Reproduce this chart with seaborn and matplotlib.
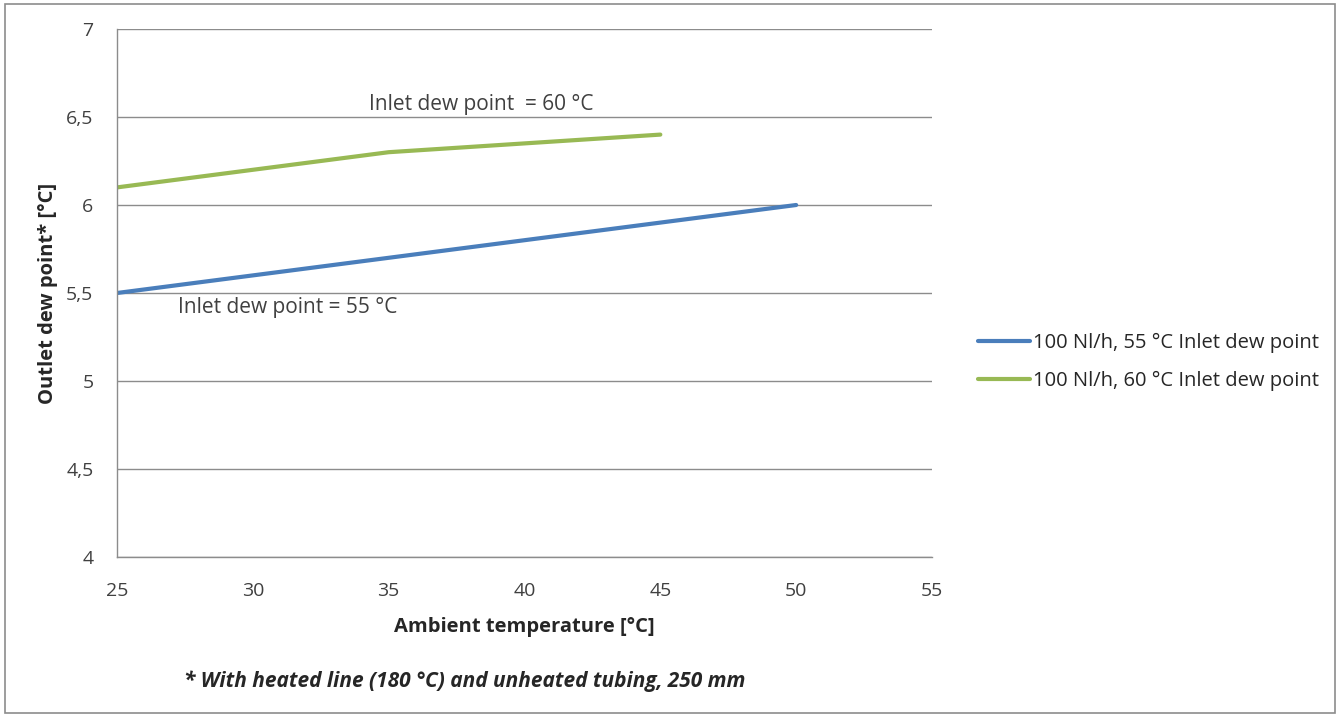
import pandas as pd
import seaborn as sns
import matplotlib.pyplot as plt
from matplotlib.ticker import FuncFormatter
from matplotlib.patches import Rectangle

# Data
ambient_55 = [25, 35, 50]
outlet_55 = [5.5, 5.7, 6.0]
ambient_60 = [25, 35, 45]
outlet_60 = [6.1, 6.3, 6.4]
series_names = ["100 Nl/h, 55 °C Inlet dew point", "100 Nl/h, 60 °C Inlet dew point"]
series_colors = ["#4a7ebb", "#98b954"]

df = pd.concat([
    pd.DataFrame({"ambient": ambient_55, "outlet": outlet_55, "series": series_names[0]}),
    pd.DataFrame({"ambient": ambient_60, "outlet": outlet_60, "series": series_names[1]}),
])

sns.set_style("white")
plt.rcParams['font.family'] = ['Open Sans', 'DejaVu Sans']

fig = plt.figure(figsize=(13.4, 7.17), dpi=100)
ax = fig.add_axes([117 / 1340, 1 - 557 / 717, (932 - 117) / 1340, (557 - 29) / 717])

sns.lineplot(data=df, x="ambient", y="outlet", hue="series",
             palette=dict(zip(series_names, series_colors)),
             linewidth=3, ax=ax, sort=False, legend=True,
             solid_capstyle="round")

ax.set_xlim(25, 55)
ax.set_ylim(4, 7)
ax.set_xticks(range(25, 56, 5))
ax.set_yticks([4, 4.5, 5, 5.5, 6, 6.5, 7])
ax.yaxis.set_major_formatter(FuncFormatter(lambda v, p: f"{v:g}".replace(".", ",")))
ax.grid(axis="y", color="#8c8c8c", linewidth=1)
ax.set_axisbelow(True)
for s in ["top", "right"]:
    ax.spines[s].set_visible(False)
for s in ["left", "bottom"]:
    ax.spines[s].set_color("#8c8c8c")
    ax.spines[s].set_linewidth(1)
ax.tick_params(axis="y", length=7, color="#8c8c8c", labelsize=14, labelcolor="#404040", pad=10)
ax.tick_params(axis="x", length=0, labelsize=14, labelcolor="#404040", pad=18)

ax.set_xlabel("Ambient temperature [°C]", fontsize=14.5, fontweight="bold", labelpad=12)
ax.set_ylabel("Outlet dew point* [°C]", fontsize=14.5, fontweight="bold")
ax.yaxis.set_label_coords(-0.072, 0.5)

ax.text(38.4, 6.57, "Inlet dew point  = 60 °C", fontsize=15, color="#404040", ha="center", va="center")
ax.text(31.3, 5.42, "Inlet dew point = 55 °C", fontsize=15, color="#404040", ha="center", va="center")

ax.legend(title=None, frameon=False, fontsize=14.5, loc="center left",
          bbox_to_anchor=(970 / 1340, 1 - 362 / 717), bbox_transform=fig.transFigure,
          handlelength=2.6, handletextpad=0.15, labelspacing=0.85, borderaxespad=0)

fig.text(465 / 1340, 1 - 681 / 717, "* With heated line (180 °C) and unheated tubing, 250 mm",
         fontsize=15, fontweight="bold", fontstyle="italic", ha="center", va="center")

fig.patches.append(Rectangle((5 / 1340, 4 / 717), 1330 / 1340, 709 / 717, transform=fig.transFigure,
                             fill=False, edgecolor="#8c8c8c", linewidth=1.2))

fig.savefig("out.png", dpi=100)
